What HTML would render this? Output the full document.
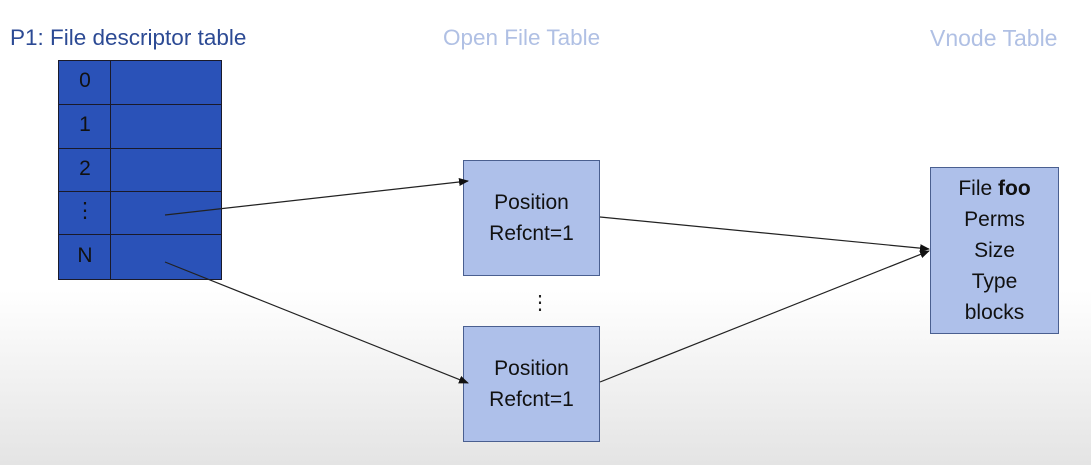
<!DOCTYPE html>
<html><head><meta charset="utf-8"><style>
html,body{margin:0;padding:0}
body{width:1091px;height:465px;position:relative;overflow:hidden;font-family:"Liberation Sans",sans-serif;background:linear-gradient(to bottom,#fff 0px,#fff 290px,#e4e4e4 465px)}
.t{position:absolute;font-size:22.5px;white-space:nowrap}
.box{position:absolute;background:#aec0ea;border:1.5px solid #4a5f90;box-sizing:border-box;display:flex;flex-direction:column;justify-content:center;align-items:center;font-size:21px;color:#111;line-height:31px}
.grid{position:absolute;left:58px;top:60px;width:164px;height:220px;border:1.5px solid #1a1a2a;box-sizing:border-box;background:#2a52b8}
.row{position:absolute;left:0;width:100%;border-top:1.5px solid #1a1a2a;box-sizing:border-box}
.lbl{position:absolute;left:0;width:52px;text-align:center;font-size:21px;color:#111}
</style></head><body>
<div class="t" style="left:10px;top:25px;color:#2c4a94;font-size:22.5px">P1: File descriptor table</div>
<div class="t" style="left:443px;top:25px;color:#b0c0e4;font-size:22.5px">Open File Table</div>
<div class="t" style="left:930px;top:25px;color:#b0c0e4;font-size:23px">Vnode Table</div>
<div class="grid">
<div style="position:absolute;left:51px;top:0;height:100%;border-left:1.5px solid #1a1a2a"></div>
<div class="row" style="top:43px"></div>
<div class="row" style="top:87px"></div>
<div class="row" style="top:130px"></div>
<div class="row" style="top:173px"></div>
<div class="lbl" style="top:8px">0</div>
<div class="lbl" style="top:52px">1</div>
<div class="lbl" style="top:96px">2</div>
<div class="lbl" style="top:137px">⋮</div>
<div class="lbl" style="top:183px">N</div>
</div>
<div class="box" style="left:463px;top:160px;width:137px;height:116px"><div>Position</div><div>Refcnt=1</div></div>
<div class="box" style="left:463px;top:326px;width:137px;height:116px"><div>Position</div><div>Refcnt=1</div></div>
<div class="box" style="left:930px;top:167px;width:129px;height:167px"><div>File <b>foo</b></div><div>Perms</div><div>Size</div><div>Type</div><div>blocks</div></div>
<div class="t" style="left:530px;top:290px;font-size:20px;color:#222">⋮</div>
<svg width="1091" height="465" style="position:absolute;left:0;top:0">
<defs><marker id="a" markerWidth="10" markerHeight="8" refX="9" refY="4" orient="auto" markerUnits="userSpaceOnUse"><path d="M0,0 L10,4 L0,8z" fill="#111"/></marker></defs>
<g stroke="#222" stroke-width="1.2" fill="none" marker-end="url(#a)">
<line x1="165" y1="215" x2="468" y2="181"/>
<line x1="165" y1="262" x2="468" y2="383"/>
<line x1="600" y1="217" x2="929" y2="249"/>
<line x1="600" y1="382" x2="929" y2="251"/>
</g></svg>
</body></html>
